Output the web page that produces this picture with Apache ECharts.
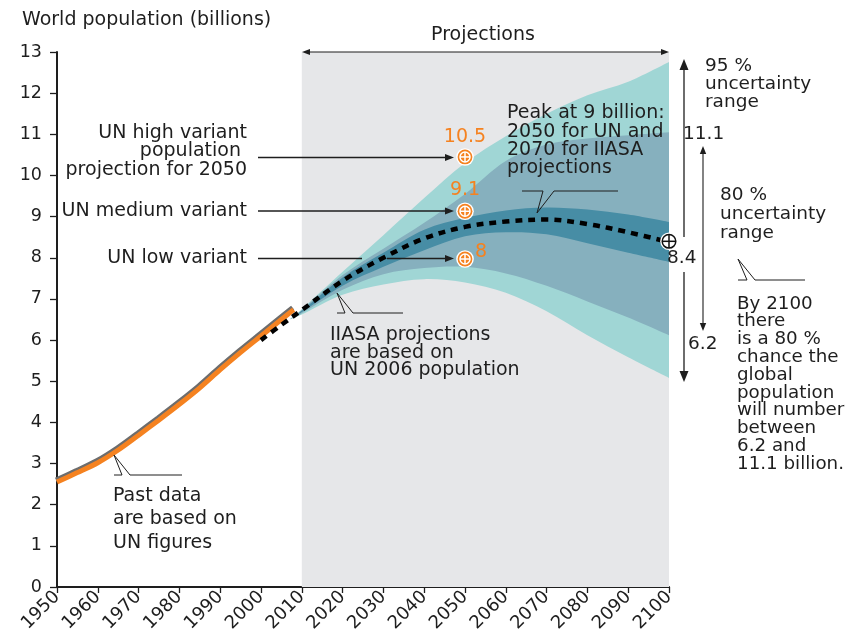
<!DOCTYPE html>
<html>
<head>
<meta charset="utf-8">
<script src="https://cdn.jsdelivr.net/npm/echarts@6/dist/echarts.min.js"></script>
<style>
  html, body { margin: 0; background: #fff; }
  #chart { width: 850px; height: 638px; }
</style>
</head>
<body>
<div id="chart"></div>
<script>
// Past data (UN figures), billions
const histYears  = [1950, 1955, 1960, 1965, 1970, 1975, 1980, 1985, 1990, 1995, 2000, 2005, 2008];
const histValues = [2.55, 2.78, 3.02, 3.33, 3.69, 4.06, 4.44, 4.84, 5.28, 5.70, 6.10, 6.50, 6.74];

// IIASA projection bands
const projYears = [2007, 2010, 2020, 2030, 2040, 2050, 2060, 2070, 2080, 2090, 2100];
const hi95      = [6.50, 6.75, 7.66, 8.55, 9.45, 10.30, 10.95, 11.50, 11.95, 12.28, 12.76];
const hi80      = [6.50, 6.73, 7.58, 8.22, 8.85, 9.55, 10.35, 10.75, 10.90, 10.98, 11.05];
const hiInner   = [6.50, 6.71, 7.52, 8.12, 8.68, 8.97, 9.15, 9.22, 9.17, 9.05, 8.87];
const loInner   = [6.50, 6.68, 7.32, 7.78, 8.18, 8.52, 8.62, 8.57, 8.35, 8.12, 7.90];
const lo80      = [6.50, 6.65, 7.22, 7.60, 7.75, 7.78, 7.62, 7.32, 6.94, 6.55, 6.12];
const lo95      = [6.50, 6.62, 7.10, 7.35, 7.48, 7.40, 7.15, 6.70, 6.12, 5.58, 5.08];

// IIASA median path
const medianYears  = [2000, 2005, 2010, 2020, 2030, 2040, 2050, 2060, 2070, 2080, 2090, 2100];
const medianValues = [6.00, 6.37, 6.73, 7.44, 8.00, 8.47, 8.75, 8.88, 8.93, 8.82, 8.62, 8.38];

// UN variants for 2050 and IIASA value in 2100
const markerYears  = [2050, 2050, 2050, 2100];
const markerValues = [10.45, 9.13, 7.97, 8.40];

// projection period (shaded)
const projectionSpan = [2010, 2100];

const FONT = '"DejaVu Sans", Verdana, sans-serif';
const INK = '#1e1e1e';
const ORANGE = '#f58220';

const pairs = (xs, ys) => xs.map((x, i) => [x, ys[i]]);

// smooth path (Catmull-Rom -> cubic bezier) through pixel points
function curve(pts, t) {
  let d = '';
  for (let i = 0; i < pts.length - 1; i++) {
    const p0 = pts[Math.max(i - 1, 0)], p1 = pts[i], p2 = pts[i + 1], p3 = pts[Math.min(i + 2, pts.length - 1)];
    const c1 = [p1[0] + (p2[0] - p0[0]) * t / 6, p1[1] + (p2[1] - p0[1]) * t / 6];
    const c2 = [p2[0] - (p3[0] - p1[0]) * t / 6, p2[1] - (p3[1] - p1[1]) * t / 6];
    d += ' C' + c1[0] + ' ' + c1[1] + ' ' + c2[0] + ' ' + c2[1] + ' ' + p2[0] + ' ' + p2[1];
  }
  return d;
}

function bandSeries(lower, upper, color, z) {
  return {
    type: 'custom', z, silent: true, clip: true,
    data: projYears.map((y, i) => [y, lower[i], upper[i]]),
    renderItem: (params, api) => {
      if (params.dataIndex !== 0) return null;
      const up = projYears.map((y, i) => api.coord([y, upper[i]]));
      const lo = projYears.map((y, i) => api.coord([y, lower[i]])).reverse();
      const d = 'M' + up[0][0] + ' ' + up[0][1] + curve(up, 1) +
        ' L' + lo[0][0] + ' ' + lo[0][1] + curve(lo, 1) + ' Z';
      return { type: 'path', shape: { pathData: d }, style: { fill: color } };
    }
  };
}

// annotation helpers (pixel space)
function seg(x1, y1, x2, y2, w) {
  return { type: 'line', z: 100, shape: { x1, y1, x2, y2 }, style: { stroke: INK, lineWidth: w || 1.2 } };
}
function head(x, y, dir, len, half) {
  let pts;
  if (dir === 'right') pts = [[x, y], [x - len, y - half], [x - len, y + half]];
  if (dir === 'left') pts = [[x, y], [x + len, y - half], [x + len, y + half]];
  if (dir === 'up') pts = [[x, y], [x - half, y + len], [x + half, y + len]];
  if (dir === 'down') pts = [[x, y], [x - half, y - len], [x + half, y - len]];
  return { type: 'polygon', z: 100, shape: { points: pts }, style: { fill: INK } };
}
function txt(lines, x, y, opt) {
  opt = opt || {};
  const lh = opt.lh || 18.4;
  return lines.map((s, i) => ({
    type: 'text', z: 100, x, y: y + i * lh,
    style: {
      text: s, font: (opt.size || 19) + 'px ' + FONT, fill: opt.color || INK,
      textAlign: opt.align || 'left', textVerticalAlign: 'middle'
    }
  }));
}
// callout bracket: tip point, base line at y with a gap between gx1 and gx2
function callout(tipX, tipY, y, x0, gx1, gx2, x1) {
  return [
    seg(x0, y, gx1, y, 1), seg(gx2, y, x1, y, 1),
    seg(tipX, tipY, gx1, y, 1), seg(tipX, tipY, gx2, y, 1)
  ];
}

const R = { align: 'right' };
const graphics = [].concat(
  txt(['World population (billions)'], 22, 20),
  txt(['Projections'], 483, 35, { align: 'center' }),
  seg(305, 52, 666, 52, 1.2), head(302, 52, 'left', 8, 3), head(669, 52, 'right', 8, 3),

  txt(['UN high variant', 'population ', 'projection for 2050'], 247, 133, R),
  txt(['UN medium variant'], 247, 211, R),
  txt(['UN low variant'], 247, 258, R),
  seg(258, 157.5, 446, 157.5, 1.3), head(454, 157.5, 'right', 9, 3.5),
  seg(258, 211, 446, 211, 1.3), head(454, 211, 'right', 9, 3.5),
  seg(258, 258.5, 362, 258.5, 1.3), seg(387, 258.5, 446, 258.5, 1.3), head(454, 258.5, 'right', 9, 3.5),

  txt(['10.5'], 465, 137, { align: 'center', color: ORANGE }),
  txt(['9.1'], 465, 190, { align: 'center', color: ORANGE }),
  txt(['8'], 475, 252, { color: ORANGE }),

  txt(['Peak at 9 billion:', '2050 for UN and', '2070 for IIASA', 'projections'], 507, 113.5, { lh: 18.3 }),
  callout(537, 213, 191, 522, 543, 554, 618),

  txt(['IIASA projections', 'are based on', 'UN 2006 population'], 330, 335, { lh: 17.6 }),
  callout(337, 293, 313, 337, 345, 353, 403),

  callout(114, 455, 475, 114, 122, 130, 182),
  txt(['Past data', 'are based on', 'UN figures'], 113, 496, { lh: 23.5 }),

  // 95 % uncertainty arrow
  seg(684, 68, 684, 237, 1.3), seg(684, 272, 684, 373, 1.3),
  head(684, 59, 'up', 11, 4.5), head(684, 382, 'down', 11, 4.5),
  txt(['95 %', 'uncertainty', 'range'], 705, 65.8, { lh: 18.2, size: 18.5 }),
  txt(['11.1'], 683, 133.8, { size: 18.5 }),
  txt(['8.4'], 667, 257.8, { size: 18.5 }),
  txt(['6.2'], 688, 343.8, { size: 18.5 }),

  // 80 % uncertainty arrow
  seg(703, 153, 703, 324, 1.1),
  head(703, 146, 'up', 8, 3.2), head(703, 331, 'down', 8, 3.2),
  txt(['80 %', 'uncertainty', 'range'], 720, 195.5, { lh: 19, size: 18.5 }),

  callout(738, 259, 280, 738, 747, 755, 805),
  txt(['By 2100', 'there', 'is a 80 %', 'chance the', 'global', 'population',
       'will number', 'between', '6.2 and', '11.1 billion.'], 737, 303.8, { lh: 17.8, size: 18.3 })
);

const chart = echarts.init(document.getElementById('chart'), null, { renderer: 'canvas' });

chart.setOption({
  backgroundColor: '#ffffff',
  animation: false,
  textStyle: { fontFamily: FONT },
  grid: { left: 57, right: 181, top: 52, bottom: 51, containLabel: false },
  xAxis: {
    type: 'value', min: 1950, max: 2100, interval: 10,
    axisLine: { lineStyle: { color: INK, width: 2 } },
    axisTick: { length: 6, lineStyle: { color: INK, width: 1.3 } },
    axisLabel: { rotate: 45, fontSize: 18, color: INK, fontFamily: FONT, margin: 7, formatter: v => String(v) },
    splitLine: { show: false }
  },
  yAxis: {
    type: 'value', min: 0, max: 13, interval: 1,
    axisLine: { show: true, lineStyle: { color: INK, width: 2 } },
    axisTick: { show: true, length: 7, lineStyle: { color: INK, width: 1.3 } },
    axisLabel: { fontSize: 17.5, color: INK, fontFamily: FONT, margin: 15 },
    splitLine: { show: false }
  },
  series: [
    {
      // grey background of the projection period
      type: 'custom', z: 1, silent: true, clip: true,
      data: [[projectionSpan[0], projectionSpan[1]]],
      renderItem: (params, api) => {
        const a = api.coord([api.value(0), 13]);
        const b = api.coord([api.value(1), 0]);
        return {
          type: 'rect',
          shape: { x: a[0], y: a[1], width: b[0] - a[0], height: b[1] - a[1] },
          style: { fill: '#e6e7e9' }
        };
      }
    },
    bandSeries(lo95, hi95, '#a0d6d5', 2),
    bandSeries(lo80, hi80, '#86b0be', 3),
    bandSeries(loInner, hiInner, '#478da5', 4),
    {
      type: 'line', data: pairs(histYears, histValues), smooth: 0.3, symbol: 'none', z: 5,
      lineStyle: {
        color: ORANGE, width: 5, cap: 'butt',
        shadowColor: '#6d6d6d', shadowBlur: 0, shadowOffsetX: -1, shadowOffsetY: -2
      }
    },
    {
      type: 'line', data: pairs(medianYears, medianValues), smooth: 0.35, symbol: 'none', z: 6,
      lineStyle: { color: '#000', width: 4.5, type: [7, 6], cap: 'butt' }
    },
    {
      type: 'custom', z: 8,
      data: markerYears.map((y, i) => [y, markerValues[i], i === 3 ? 1 : 0]),
      renderItem: (params, api) => {
        const p = api.coord([api.value(0), api.value(1)]);
        const dark = api.value(2) === 1;
        const cx = p[0], cy = p[1];
        const ink = dark ? '#111' : '#fff';
        const r = dark ? 6.8 : 5;
        return {
          type: 'group',
          children: [
            { type: 'circle', shape: { cx, cy, r: 8.8 }, style: { fill: '#fff' } },
            { type: 'circle', shape: { cx, cy, r: 7.4 }, style: { fill: dark ? '#fff' : ORANGE } },
            { type: 'circle', shape: { cx, cy, r }, style: { fill: 'none', stroke: ink, lineWidth: 1.5 } },
            { type: 'line', shape: { x1: cx - r, y1: cy, x2: cx + r, y2: cy }, style: { stroke: ink, lineWidth: 1.5 } },
            { type: 'line', shape: { x1: cx, y1: cy - r, x2: cx, y2: cy + r }, style: { stroke: ink, lineWidth: 1.5 } }
          ]
        };
      }
    }
  ],
  graphic: { elements: graphics }
});

window.addEventListener('resize', () => chart.resize());
</script>
</body>
</html>
